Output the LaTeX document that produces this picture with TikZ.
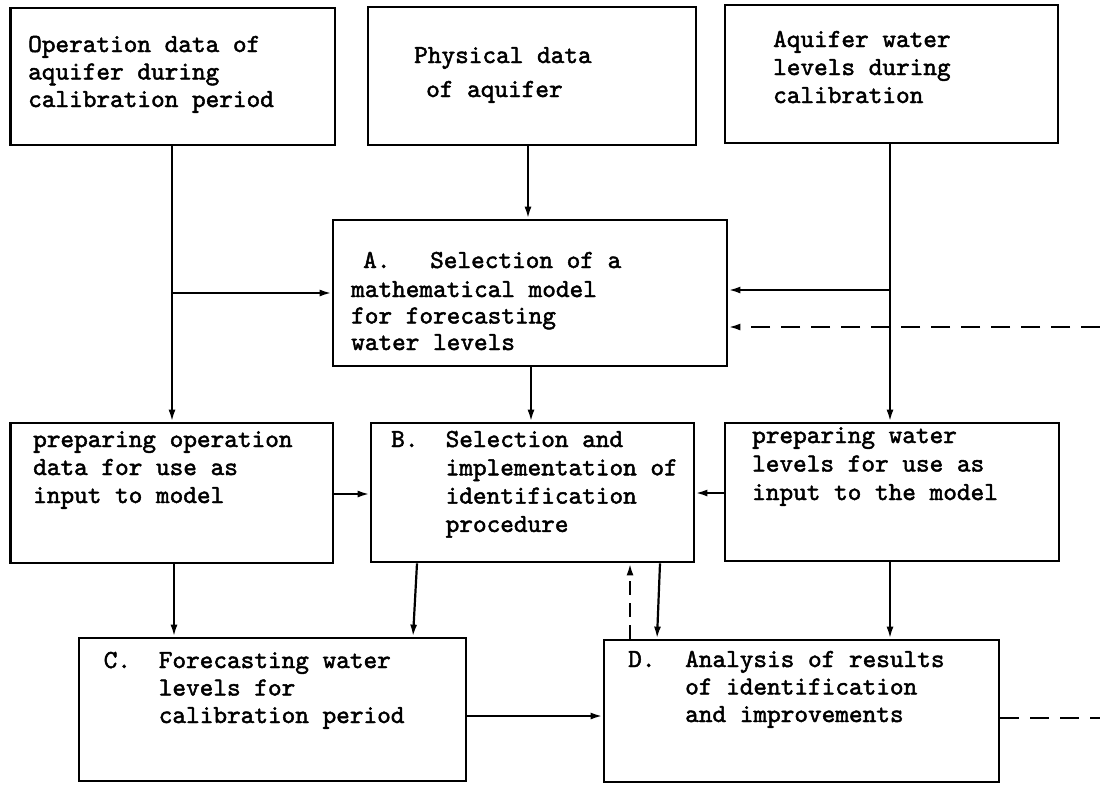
\documentclass[tikz,border=0pt]{standalone}
\usepackage{fontspec}
\setmonofont[FakeBold=1.8]{lmmono10-regular.otf}
\usetikzlibrary{arrows.meta}
\begin{document}
\begin{tikzpicture}[x=1pt,y=-1pt,
  box/.style={draw,line width=2.8pt,inner sep=0pt},
  conn/.style={line width=2.2pt,-{Latex[length=12pt,width=7pt]}},
  fb/.style={line width=2.2pt,dash pattern=on 19pt off 11pt},
  txt/.style={anchor=base west,inner sep=0pt,font=\ttfamily\fontsize{26}{29}\selectfont}]
\useasboundingbox (0,0) rectangle (1100,785);
% boxes
\node[box,minimum width=324.5pt,minimum height=137pt] (b1) at (172.75,76.5) {};
\node[box,minimum width=328pt,minimum height=138pt] (b2) at (532,76) {};
\node[box,minimum width=333pt,minimum height=138pt] (b3) at (891.5,74) {};
\node[box,minimum width=394pt,minimum height=146pt] (A) at (530,293) {};
\node[box,minimum width=322.5pt,minimum height=140pt] (pO) at (171.75,493) {};
\node[box,minimum width=323pt,minimum height=139pt] (B) at (532.5,492.5) {};
\node[box,minimum width=334pt,minimum height=138pt] (pW) at (892,492) {};
\node[box,minimum width=387pt,minimum height=143pt] (C) at (272.5,709.5) {};
\node[box,minimum width=395pt,minimum height=142pt] (D) at (801.5,711) {};
% texts
\node[txt] (tb1) at (28,52) {\vtop{\baselineskip=27.5pt\hbox{Operation data of}\hbox{aquifer during}\hbox{calibration period}}};
\node[txt] (tb2a) at (414,63) {Physical data};
\node[txt] (tb2b) at (426,97) {of aquifer};
\node[txt] (tb3) at (773,47) {\vtop{\baselineskip=28pt\hbox{Aquifer water}\hbox{levels during}\hbox{calibration}}};
\node[txt] (tAl) at (363,268) {A.};
\node[txt] (tA1) at (430,268) {Selection of a};
\node[txt] (tA2) at (351,297) {\vtop{\baselineskip=26.5pt\hbox{mathematical model}\hbox{for forecasting}\hbox{water levels}}};
\node[txt] (tpO) at (33,447) {\vtop{\baselineskip=28pt\hbox{preparing operation}\hbox{data for use as}\hbox{input to model}}};
\node[txt] (tBl) at (391,447) {B.};
\node[txt] (tB) at (445.5,447) {\vtop{\baselineskip=28.3pt\hbox{Selection and}\hbox{implementation of}\hbox{identification}\hbox{procedure}}};
\node[txt] (tpW) at (752,443) {\vtop{\baselineskip=28.5pt\hbox{preparing water}\hbox{levels for use as}\hbox{input to the model}}};
\node[txt] (tCl) at (103.5,668) {C.};
\node[txt] (tC) at (158.6,668) {\vtop{\baselineskip=27.5pt\hbox{Forecasting water}\hbox{levels for}\hbox{calibration period}}};
\node[txt] (tDl) at (628,667) {D.};
\node[txt] (tD) at (685,667) {\vtop{\baselineskip=27.5pt\hbox{Analysis of results}\hbox{of identification}\hbox{and improvements}}};
% connectors
\coordinate (j1) at (172,293);
\draw[conn] (j1 |- b1.south) -- (j1 |- pO.north);
\draw[conn] (j1) -- (j1 -| A.west);
\coordinate (j2) at (528,0);
\draw[conn] (j2 |- b2.south) -- (j2 |- A.north);
\coordinate (j3) at (890,290);
\draw[conn] (j3 |- b3.south) -- (j3 |- pW.north);
\draw[conn] (j3) -- (j3 -| A.east);
\coordinate (fbA) at (1100,327);
\draw[fb,-{Latex[length=12pt,width=7pt]}] (fbA) -- (fbA -| A.east);
\coordinate (j4) at (531,0);
\draw[conn] (j4 |- A.south) -- (j4 |- B.north);
\coordinate (j5) at (0,494);
\draw[conn] (j5 -| pO.east) -- (j5 -| B.west);
\coordinate (j6) at (0,493);
\draw[conn] (j6 -| pW.west) -- (j6 -| B.east);
\coordinate (j7) at (174,0);
\draw[conn] (j7 |- pO.south) -- (j7 |- C.north);
\coordinate (j8a) at (417,0);
\coordinate (j8b) at (413,0);
\draw[conn] (j8a |- B.south) -- (j8b |- C.north);
\coordinate (j9a) at (660,0);
\coordinate (j9b) at (657,0);
\draw[conn] (j9a |- B.south) -- (j9b |- D.north);
\coordinate (j10) at (630,0);
\draw[fb,dash pattern=on 14pt off 8pt,-{Latex[length=12pt,width=7pt]}] (j10 |- D.north) -- (j10 |- B.south);
\draw[conn] (j3 |- pW.south) -- (j3 |- D.north);
\coordinate (j11) at (0,716);
\draw[conn] (j11 -| C.east) -- (j11 -| D.west);
\coordinate (fbD) at (1100,718);
\draw[fb] (fbD -| D.east) -- (fbD);
\end{tikzpicture}
\end{document}
